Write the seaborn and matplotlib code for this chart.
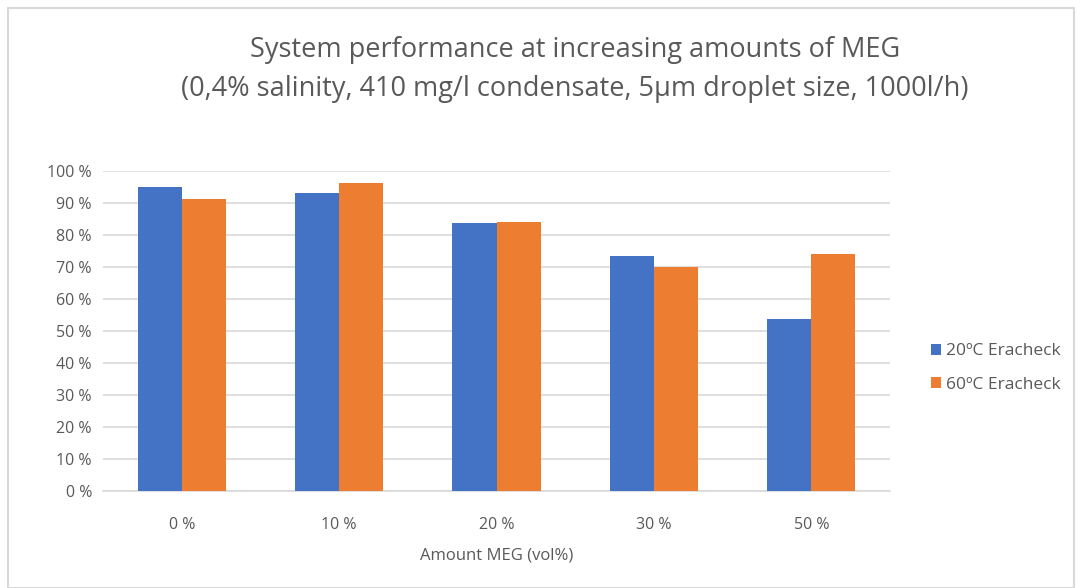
import matplotlib
matplotlib.use("Agg")
import matplotlib.pyplot as plt
import seaborn as sns
import pandas as pd
from matplotlib.patches import Rectangle

categories = ["0 %", "10 %", "20 %", "30 %", "50 %"]
series_names = ["20ºC Eracheck", "60ºC Eracheck"]
values_20 = [95.1, 93.0, 83.6, 73.4, 53.7]
values_60 = [91.1, 96.2, 84.1, 69.9, 74.0]
ytick_values = list(range(0, 101, 10))
ytick_labels = [f"{v} %" for v in ytick_values]

df = pd.DataFrame({
    "cat": categories * 2,
    "series": [series_names[0]] * 5 + [series_names[1]] * 5,
    "val": values_20 + values_60,
})

sns.set_theme(style="white")
plt.rcParams['font.family'] = ['Open Sans', 'DejaVu Sans']
gray = "#595959"

fig = plt.figure(figsize=(10.86, 5.88), dpi=100)
fig.patches.append(Rectangle((8/1086, 0), 1066/1086, 1 - 8/588, transform=fig.transFigure,
                             fill=False, edgecolor="#d9d9d9", linewidth=1.5))
ax = fig.add_axes([103/1086, 1 - 491/588, 787/1086, 320/588])

sns.barplot(data=df, x="cat", y="val", hue="series", order=categories,
            hue_order=series_names, palette=["#4472C4", "#ED7D31"],
            width=0.56, saturation=1, ax=ax, legend=True, zorder=3, linewidth=0)

ax.set_ylim(0, 100)
ax.set_xlim(-0.5, 4.5)
ax.set_yticks(ytick_values)
ax.set_yticklabels(ytick_labels)
ax.yaxis.grid(True, color="#d9d9d9", linewidth=1.2, zorder=0)
ax.set_axisbelow(True)
for s in ["top", "right", "left"]:
    ax.spines[s].set_visible(False)
ax.spines["bottom"].set_color("#d9d9d9")
ax.spines["bottom"].set_linewidth(1.2)
ax.tick_params(axis="both", length=0, colors=gray, labelsize=11.5)
ax.tick_params(axis="x", pad=19)
ax.tick_params(axis="y", pad=8)
ax.set_ylabel("")
ax.set_xlabel("Amount MEG (vol%)", color=gray, fontsize=12, labelpad=10)

fig.text(575/1086, 1 - 50/588, "System performance at increasing amounts of MEG",
         ha="center", va="center", fontsize=19.5, color=gray)
fig.text(575/1086, 1 - 89/588, "(0,4% salinity, 410 mg/l condensate, 5µm droplet size, 1000l/h)",
         ha="center", va="center", fontsize=19.5, color=gray)

leg = ax.legend(loc="center left", bbox_to_anchor=(915/1086, 1 - 368/588),
                bbox_transform=fig.transFigure, frameon=False, fontsize=12.5,
                handlelength=0.6, handleheight=0.6, handletextpad=0.3, labelspacing=1.0)
for t in leg.get_texts():
    t.set_color(gray)

fig.savefig("out.png", dpi=100)
